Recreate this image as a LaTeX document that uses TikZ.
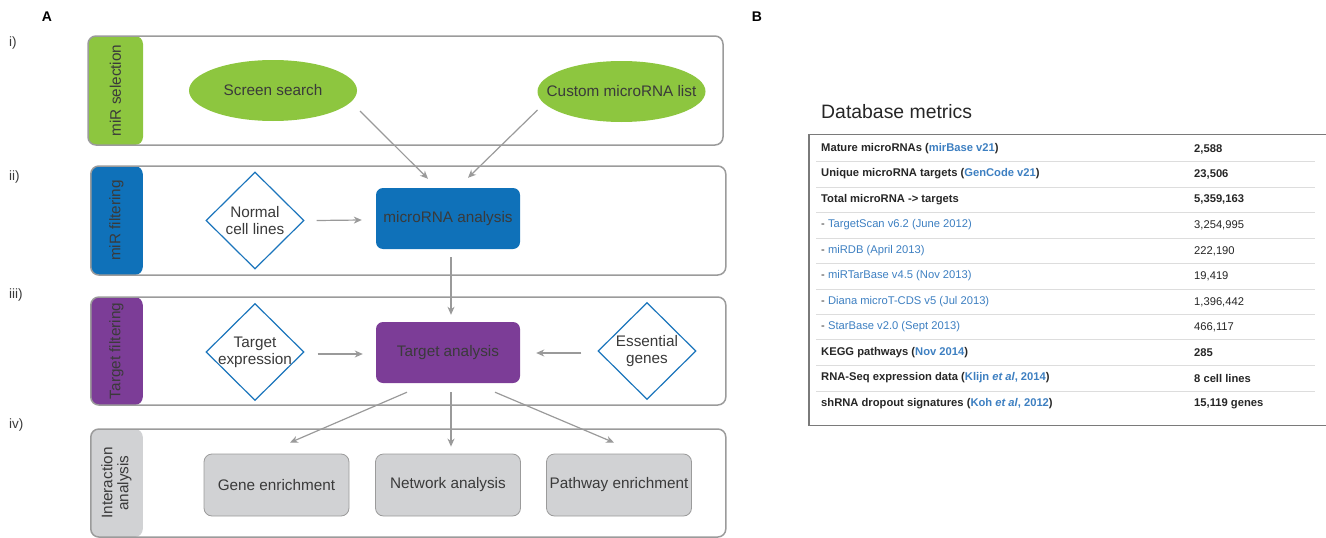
\documentclass[tikz,border=0pt]{standalone}
\usepackage{fontspec}
\setmainfont{Liberation Sans}
\usetikzlibrary{shapes.geometric,arrows.meta,calc}
\definecolor{ggreen}{HTML}{8DC63F}
\definecolor{gblue}{HTML}{0F71B9}
\definecolor{gpurple}{HTML}{7C3D97}
\definecolor{ggrey}{HTML}{D1D2D4}
\definecolor{pborder}{HTML}{9B9B9B}
\definecolor{dblue}{HTML}{1B75BC}
\definecolor{arrowc}{HTML}{9A9A9A}
\definecolor{txt}{HTML}{3A3A3A}
\definecolor{lnk}{HTML}{3D7FC1}
\definecolor{tbord}{HTML}{7A7A7A}
\definecolor{tsep}{HTML}{DDDDDD}
\newcommand\dfont{\fontsize{15.3}{17}\selectfont}
\newcommand\tfont{\fontsize{11.2}{13}\selectfont}
\begin{document}
\begin{tikzpicture}[x=1pt,y=-1pt,
  panel/.style={draw=pborder,line width=1.5pt,rounded corners=8pt,inner sep=0pt},
  strip/.style 2 args={path picture={\fill[#1] (path picture bounding box.north west) rectangle ([xshift=#2]path picture bounding box.south west);}},
  striplabel/.style={rotate=90,text=txt,font=\dfont,align=center,inner sep=0pt},
  oval/.style={ellipse,fill=ggreen,minimum width=168pt,minimum height=61pt,inner sep=0pt},
  dia/.style={diamond,draw=dblue,line width=1.2pt,fill=white,minimum width=98pt,minimum height=97pt,inner sep=0pt},
  intext/.style={text=txt,font=\dfont,align=center,inner sep=0pt},
  mainbox/.style={rounded corners=7pt,minimum width=144pt,minimum height=61pt,inner sep=0pt,text=txt,font=\dfont},
  greybox/.style={rounded corners=8pt,draw=pborder,line width=0.8pt,fill=ggrey,minimum width=145pt,minimum height=62pt,inner sep=0pt,text=txt,font=\dfont},
  arr/.style={draw=arrowc,line width=1.2pt,-{Stealth[length=8pt,width=7pt,inset=2.5pt]}},
  lab/.style={text=black,inner sep=0pt},
  rowl/.style={anchor=west,inner sep=0pt,text=black!85,font=\tfont},
  rowr/.style={anchor=west,inner sep=0pt,text=black!85,font=\tfont},
  sepline/.style={draw=tsep,line width=1pt}
]
\useasboundingbox (0,0) rectangle (1326,538);

% labels
\node[lab,font=\fontsize{14}{16}\selectfont\bfseries] (A) at (47,17) {A};
\node[lab,font=\fontsize{14}{16}\selectfont\bfseries] (B) at (757,17) {B};
\node[lab,anchor=west,font=\fontsize{13.5}{16}\selectfont,text=txt] (li) at (9,43) {i)};
\node[lab,anchor=west,font=\fontsize{13.5}{16}\selectfont,text=txt] (lii) at (9,177) {ii)};
\node[lab,anchor=west,font=\fontsize{13.5}{16}\selectfont,text=txt] (liii) at (9,295) {iii)};
\node[lab,anchor=west,font=\fontsize{13.5}{16}\selectfont,text=txt] (liv) at (9,425) {iv)};

% panels
\node[panel,strip={ggreen}{55pt},minimum width=635pt,minimum height=109pt] (p1) at (405.5,90.5) {};
\node[panel,strip={gblue}{52pt},minimum width=635pt,minimum height=109pt] (p2) at (408.3,220.5) {};
\node[panel,strip={gpurple}{52pt},minimum width=635pt,minimum height=108pt] (p3) at (408.3,351) {};
\node[panel,strip={ggrey}{52pt},minimum width=635pt,minimum height=108pt] (p4) at (408.3,483) {};

\node[striplabel] (s1) at (115.5,90.5) {miR selection};
\node[striplabel] (s2) at (116.5,220.5) {miR filtering};
\node[striplabel] (s3) at (116.5,351) {Target filtering};
\node[striplabel,font=\fontsize{15.3}{16}\selectfont] (s4) at (116.5,483) {Interaction\\analysis};

% panel i
\node[oval] (ss) at (273,90.5) {};
\node[intext] (ss-t) at (ss) {Screen search};
\node[oval] (cl) at (621.5,91.5) {};
\node[intext] (cl-t) at (cl) {Custom microRNA list};

% panel ii
\node[dia] (ncl) at (255,220.5) {};
\node[intext] (ncl-t) at (ncl) {Normal\\cell lines};
\node[mainbox,fill=gblue] (mra) at (448,218.5) {microRNA analysis};

% panel iii
\node[dia] (te) at (255,352) {};
\node[intext] (te-t) at (te) {Target\\expression};
\node[mainbox,fill=gpurple] (ta) at (448,352.5) {Target analysis};
\node[dia] (eg) at (647,351) {};
\node[intext] (eg-t) at (eg) {Essential\\genes};

% panel iv
\node[greybox] (ge) at (276.5,485) {Gene enrichment};
\node[greybox] (na) at (448,485) {Network analysis};
\node[greybox] (pe) at (619,485) {Pathway enrichment};

% arrows
\draw[arr] ($(ss)+(87,20.5)$) -- ($(mra.north)+(-20,-9)$);
\draw[arr] ($(cl)+(-84,18.5)$) -- ($(mra.north)+(20,-10)$);
\draw[arr] ($(ncl.east)+(12,0)$) -- ($(mra.west)+(-14,1.5)$);
\draw[arr] ($(mra.south)+(3,8)$) -- ($(ta.north)+(3,-7)$);
\draw[arr] ($(te.east)+(13,2)$) -- ($(ta.west)+(-13,1.5)$);
\draw[arr] ($(eg.west)+(-16,2)$) -- ($(ta.east)+(16,0.5)$);
\draw[arr] ($(ta.south)+(-41,9)$) -- ($(ge.north)+(13.5,-11)$);
\draw[arr] ($(ta.south)+(3,9)$) -- ($(na.north)+(3,-7)$);
\draw[arr] ($(ta.south)+(47,9)$) -- ($(pe.north)+(-5,-11)$);

% panel B
\node[lab,anchor=base west,font=\fontsize{19.4}{22}\selectfont,text=black!85] (dbm) at (821,118) {Database metrics};
\node[draw=tbord,line width=1.8pt,minimum width=530pt,minimum height=291pt,anchor=north west,inner sep=0pt] (tab) at (808,133.5) {};

\foreach \yy in {161.5,187,212,238,263,289,314,339.5,365,391}
  \draw[sepline] (816,\yy) -- (1315,\yy);

\node[rowl] (l1) at (821,149) {\bfseries Mature microRNAs (\textcolor{lnk}{mirBase v21})};
\node[rowl] (l2) at (821,174) {\bfseries Unique microRNA targets (\textcolor{lnk}{GenCode v21})};
\node[rowl] (l3) at (821,199.5) {\bfseries Total microRNA -> targets};
\node[rowl] (l4) at (821,225) {- \textcolor{lnk}{TargetScan v6.2 (June 2012)}};
\node[rowl] (l5) at (821,251) {- \textcolor{lnk}{miRDB (April 2013)}};
\node[rowl] (l6) at (821,276) {- \textcolor{lnk}{miRTarBase v4.5 (Nov 2013)}};
\node[rowl] (l7) at (821,302) {- \textcolor{lnk}{Diana microT-CDS v5 (Jul 2013)}};
\node[rowl] (l8) at (821,327) {- \textcolor{lnk}{StarBase v2.0 (Sept 2013)}};
\node[rowl] (l9) at (821,353) {\bfseries KEGG pathways (\textcolor{lnk}{Nov 2014})};
\node[rowl] (l10) at (821,378) {\bfseries RNA-Seq expression data (\textcolor{lnk}{Klijn \textit{et al}, 2014})};
\node[rowl] (l11) at (821,403.5) {\bfseries shRNA dropout signatures (\textcolor{lnk}{Koh \textit{et al}, 2012})};

\node[rowr] (r1) at (1194,149) {\bfseries 2,588};
\node[rowr] (r2) at (1194,174) {\bfseries 23,506};
\node[rowr] (r3) at (1194,199.5) {\bfseries 5,359,163};
\node[rowr] (r4) at (1194,225) {3,254,995};
\node[rowr] (r5) at (1194,251) {222,190};
\node[rowr] (r6) at (1194,276) {19,419};
\node[rowr] (r7) at (1194,302) {1,396,442};
\node[rowr] (r8) at (1194,327) {466,117};
\node[rowr] (r9) at (1194,353) {\bfseries 285};
\node[rowr] (r10) at (1194,378) {\bfseries 8 cell lines};
\node[rowr] (r11) at (1194,403.5) {\bfseries 15,119 genes};
\end{tikzpicture}
\end{document}
